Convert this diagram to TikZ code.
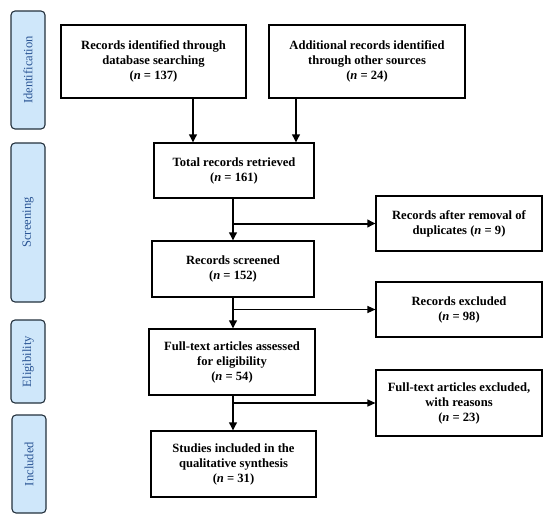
\documentclass[tikz,border=0pt]{standalone}
\usepackage{fontspec}
\setmainfont{Liberation Serif}
\usetikzlibrary{arrows.meta}
\definecolor{barfill}{HTML}{CFE7FA}
\definecolor{barline}{HTML}{23313D}
\definecolor{bartext}{HTML}{2A5595}
\begin{document}
\begin{tikzpicture}[x=1pt,y=-1pt,
  box/.style={draw=black,line width=1.1pt,fill=white,inner sep=2pt,align=center,
    font=\fontsize{12.6}{15}\selectfont\bfseries},
  sidebar/.style={draw=barline,line width=1.1pt,fill=barfill,rounded corners=4pt},
  sidelabel/.style={rotate=90,text=bartext,font=\fontsize{12.6}{13}\selectfont},
  thickarr/.style={line width=2pt,-{Triangle[length=8pt,width=7.5pt]}},
  thinarr/.style={line width=1.3pt,-{Triangle[length=8pt,width=7pt]}},
]
\useasboundingbox (0,0) rectangle (550,522);
% side bars
\draw[sidebar] (11,11) rectangle (45,129);
\node[sidelabel] (lid) at (28,70) {Identification};
\draw[sidebar] (11,143) rectangle (45,302);
\node[sidelabel] (lsc) at (28,222.5) {Screening};
\draw[sidebar] (11,320) rectangle (45,403);
\node[sidelabel] (lel) at (28,361.5) {Eligibility};
\draw[sidebar] (12,415) rectangle (46,513);
\node[sidelabel] (lin) at (29,464) {Included};
% boxes
\node[box,minimum width=185pt,minimum height=73pt] (b1) at (153.5,61.5)
  {Records identified through\\database searching\\(\textit{n} = 137)};
\node[box,minimum width=196pt,minimum height=73pt] (b2) at (367,61.5)
  {Additional records identified\\through other sources\\(\textit{n} = 24)};
\node[box,minimum width=160pt,minimum height=55pt] (tot) at (234,170.5)
  {Total records retrieved\\(\textit{n} = 161)};
\node[box,minimum width=166pt,minimum height=55pt] (dup) at (459,223.5)
  {Records after removal of\\duplicates (\textit{n} = 9)};
\node[box,minimum width=162pt,minimum height=56pt] (scr) at (233,269)
  {Records screened\\(\textit{n} = 152)};
\node[box,minimum width=166pt,minimum height=55pt] (exc) at (459,309.5)
  {Records excluded\\(\textit{n} = 98)};
\node[box,minimum width=166pt,minimum height=66pt] (ft) at (232,362)
  {Full-text articles assessed\\for eligibility\\(\textit{n} = 54)};
\node[box,minimum width=166pt,minimum height=66pt] (ftx) at (459,403)
  {Full-text articles excluded,\\with reasons\\(\textit{n} = 23)};
\node[box,minimum width=165pt,minimum height=66pt] (st) at (233.5,464)
  {Studies included in the\\qualitative synthesis\\(\textit{n} = 31)};
% connectors
\coordinate (a1) at (193,98);
\coordinate (a2) at (296,98);
\draw[thickarr] (a1) -- (a1 |- tot.north);
\draw[thickarr] (a2) -- (a2 |- tot.north);
\coordinate (m1) at (233,198);
\draw[thickarr] (m1) -- (m1 |- scr.north);
\draw[thickarr] (m1 |- dup.west) -- (dup.west);
\coordinate (m2) at (233,297);
\draw[thickarr] (m2) -- (m2 |- ft.north);
\draw[thinarr] (m2 |- exc.west) -- (exc.west);
\coordinate (m3) at (233,395);
\draw[thickarr] (m3) -- (m3 |- st.north);
\draw[thinarr] (m3 |- ftx.west) -- (ftx.west);
\end{tikzpicture}
\end{document}
